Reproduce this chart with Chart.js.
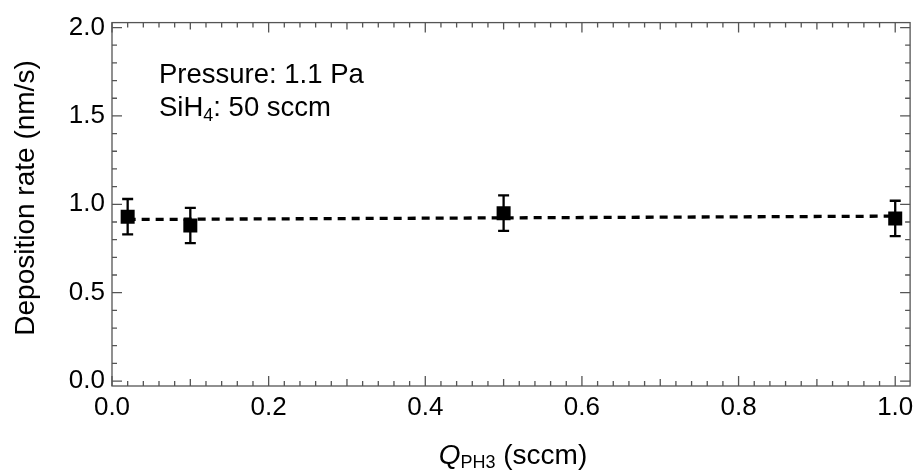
<!DOCTYPE html>
<html>
<head>
<meta charset="utf-8">
<script src="https://cdn.jsdelivr.net/npm/chart.js@4.4.1/dist/chart.umd.min.js"></script>
<style>
    html, body { margin: 0; padding: 0; background: #fff; }
    #wrap { position: relative; width: 920px; height: 470px; font-family: 'Liberation Sans', Arial, sans-serif; color: #000; }
    #chart { position: absolute; left: 0; top: 0; }
    .txt { position: absolute; white-space: nowrap; }
    #note { left: 159px; top: 57px; font-size: 27.5px; line-height: 33px; }
    #xtitle { left: 313px; top: 439px; width: 400px; text-align: center; font-size: 28px; line-height: 32px; }
    #ytitle { left: -175px; top: 182px; width: 400px; height: 32px; text-align: center; font-size: 28px; line-height: 32px; transform: rotate(-90deg); }
    .sub { position: relative; }
</style>
</head>
<body>
<div id="wrap">
    <canvas id="chart" width="920" height="470"></canvas>
    <div id="note" class="txt">Pressure: 1.1 Pa<br>SiH<span class="sub" style="font-size:18px; top:5px;">4</span>: 50 sccm</div>
    <div id="xtitle" class="txt"><i>Q</i><span class="sub" style="font-size:18px; top:4px;">PH3</span> (sccm)</div>
    <div id="ytitle" class="txt">Deposition rate (nm/s)</div>
</div>
<script>
// ════════════════════════════════════════
// DATA
// ════════════════════════════════════════

const flowPH3 = [0.02, 0.1, 0.5, 1.0];          // sccm
const depRate = [0.93, 0.88, 0.95, 0.92];       // nm/s
const depErr  = [0.10, 0.10, 0.10, 0.10];

// linear fit (dashed)
const fitX = [0.02, 1.0];
const fitY = [0.914, 0.933];

const xTicks = [0.0, 0.2, 0.4, 0.6, 0.8, 1.0];
const yTicks = [0.0, 0.5, 1.0, 1.5, 2.0];

const FONT = "'Liberation Sans', Arial, sans-serif";
const FRAME = '#555';

// ════════════════════════════════════════
// PLUGIN: frame, inward ticks, error bars
// ════════════════════════════════════════

const framePlugin = {
    id: 'frame',
    afterDatasetsDraw(chart) {
        const { ctx, chartArea: a, scales } = chart;
        const xs = scales.x, ys = scales.y;

        // error bars
        ctx.save();
        ctx.strokeStyle = '#000';
        ctx.lineWidth = 2.3;
        flowPH3.forEach((q, i) => {
            const px = xs.getPixelForValue(q);
            const top = ys.getPixelForValue(depRate[i] + depErr[i]);
            const bot = ys.getPixelForValue(depRate[i] - depErr[i]);
            ctx.beginPath();
            ctx.moveTo(px, top); ctx.lineTo(px, bot);
            ctx.moveTo(px - 5.5, top); ctx.lineTo(px + 5.5, top);
            ctx.moveTo(px - 5.5, bot); ctx.lineTo(px + 5.5, bot);
            ctx.stroke();
        });
        ctx.restore();

        // frame
        ctx.save();
        ctx.strokeStyle = FRAME;
        ctx.lineWidth = 1.3;
        ctx.strokeRect(a.left, a.top, a.right - a.left, a.bottom - a.top);

        // x ticks (bottom + top), minor every 0.02
        ctx.beginPath();
        for (let i = 0; i <= 50; i++) {
            const px = xs.getPixelForValue(i * 0.02);
            const len = i % 10 === 0 ? 10 : (i % 5 === 0 ? 7 : 5);
            ctx.moveTo(px, a.bottom); ctx.lineTo(px, a.bottom - len);
            ctx.moveTo(px, a.top); ctx.lineTo(px, a.top + len);
        }
        // y ticks (left + right), minor every 0.1
        for (let i = 0; i <= 20; i++) {
            const py = ys.getPixelForValue(i * 0.1);
            const len = i % 5 === 0 ? 10 : 5;
            ctx.moveTo(a.left, py); ctx.lineTo(a.left + len, py);
            ctx.moveTo(a.right, py); ctx.lineTo(a.right - len, py);
        }
        ctx.stroke();
        ctx.restore();
    }
};

// ════════════════════════════════════════
// CHART
// ════════════════════════════════════════

new Chart(document.getElementById('chart'), {
    type: 'scatter',
    data: {
        datasets: [
            {
                type: 'line',
                data: fitX.map((x, i) => ({ x, y: fitY[i] })),
                borderColor: '#000',
                borderWidth: 3.3,
                borderDash: [8, 6],
                pointRadius: 0,
                fill: false,
            },
            {
                data: flowPH3.map((x, i) => ({ x, y: depRate[i] })),
                pointStyle: 'rect',
                pointRadius: 9.9,
                backgroundColor: '#000',
                borderColor: '#000',
                borderWidth: 0,
            }
        ]
    },
    options: {
        responsive: false,
        animation: false,
        layout: { padding: { top: 20, right: 6, left: 0, bottom: 0 } },
        plugins: { legend: { display: false }, tooltip: { enabled: false } },
        scales: {
            x: {
                type: 'linear',
                min: 0,
                max: 1.019,
                afterBuildTicks: s => { s.ticks = xTicks.map(v => ({ value: v })); },
                afterFit: s => { s.height = 84; },
                grid: { display: false, drawTicks: false },
                border: { display: false },
                ticks: {
                    padding: 6,
                    color: '#000',
                    font: { family: FONT, size: 26 },
                    callback: v => v.toFixed(1),
                    maxRotation: 0,
                },
            },
            y: {
                type: 'linear',
                min: -0.028,
                max: 2.028,
                afterBuildTicks: s => { s.ticks = yTicks.map(v => ({ value: v })); },
                afterFit: s => { s.width = 112; },
                grid: { display: false, drawTicks: false },
                border: { display: false },
                ticks: {
                    padding: 7,
                    color: '#000',
                    font: { family: FONT, size: 26 },
                    callback: v => v.toFixed(1),
                },
            }
        }
    },
    plugins: [framePlugin]
});
</script>
</body>
</html>
